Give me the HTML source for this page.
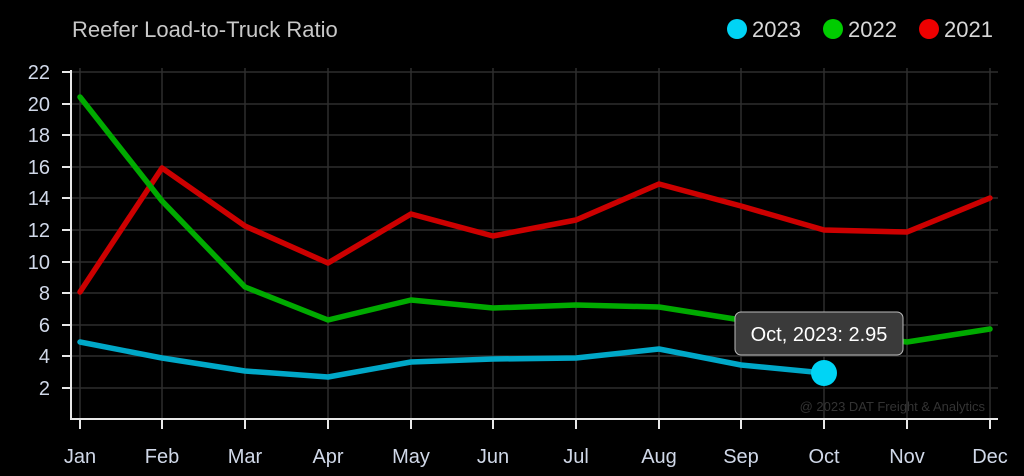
<!DOCTYPE html>
<html><head><meta charset="utf-8"><style>
html,body{margin:0;padding:0;background:#000;}
svg{display:block;font-family:"Liberation Sans",sans-serif;}
</style></head><body>
<svg width="1024" height="476" viewBox="0 0 1024 476">
<rect width="1024" height="476" fill="#000"/>
<text x="72" y="37" font-size="22" fill="#c8c8c8">Reefer Load-to-Truck Ratio</text>
<circle cx="737" cy="29" r="10" fill="#00d4f5"/><text x="752" y="37" font-size="22" fill="#d8d8d8">2023</text>
<circle cx="833" cy="29" r="10" fill="#00cc00"/><text x="848" y="37" font-size="22" fill="#d8d8d8">2022</text>
<circle cx="929" cy="29" r="10" fill="#ee0000"/><text x="944" y="37" font-size="22" fill="#d8d8d8">2021</text>
<g stroke="#2e2e2e" stroke-width="1.5">
<line x1="71" y1="72" x2="998" y2="72"/><line x1="71" y1="104" x2="998" y2="104"/><line x1="71" y1="135" x2="998" y2="135"/><line x1="71" y1="167" x2="998" y2="167"/><line x1="71" y1="198" x2="998" y2="198"/><line x1="71" y1="230" x2="998" y2="230"/><line x1="71" y1="262" x2="998" y2="262"/><line x1="71" y1="293" x2="998" y2="293"/><line x1="71" y1="325" x2="998" y2="325"/><line x1="71" y1="356" x2="998" y2="356"/><line x1="71" y1="388" x2="998" y2="388"/>
<line x1="80" y1="68" x2="80" y2="419"/><line x1="162" y1="68" x2="162" y2="419"/><line x1="245" y1="68" x2="245" y2="419"/><line x1="328" y1="68" x2="328" y2="419"/><line x1="411" y1="68" x2="411" y2="419"/><line x1="493" y1="68" x2="493" y2="419"/><line x1="576" y1="68" x2="576" y2="419"/><line x1="659" y1="68" x2="659" y2="419"/><line x1="741" y1="68" x2="741" y2="419"/><line x1="824" y1="68" x2="824" y2="419"/><line x1="907" y1="68" x2="907" y2="419"/><line x1="990" y1="68" x2="990" y2="419"/>
</g>
<g stroke="#e8e8e8" stroke-width="2">
<line x1="71" y1="70" x2="71" y2="419"/><line x1="70" y1="419" x2="998" y2="419"/>
<line x1="62" y1="72" x2="71" y2="72"/><line x1="62" y1="104" x2="71" y2="104"/><line x1="62" y1="135" x2="71" y2="135"/><line x1="62" y1="167" x2="71" y2="167"/><line x1="62" y1="198" x2="71" y2="198"/><line x1="62" y1="230" x2="71" y2="230"/><line x1="62" y1="262" x2="71" y2="262"/><line x1="62" y1="293" x2="71" y2="293"/><line x1="62" y1="325" x2="71" y2="325"/><line x1="62" y1="356" x2="71" y2="356"/><line x1="62" y1="388" x2="71" y2="388"/>
<line x1="80" y1="419" x2="80" y2="429"/><line x1="162" y1="419" x2="162" y2="429"/><line x1="245" y1="419" x2="245" y2="429"/><line x1="328" y1="419" x2="328" y2="429"/><line x1="411" y1="419" x2="411" y2="429"/><line x1="493" y1="419" x2="493" y2="429"/><line x1="576" y1="419" x2="576" y2="429"/><line x1="659" y1="419" x2="659" y2="429"/><line x1="741" y1="419" x2="741" y2="429"/><line x1="824" y1="419" x2="824" y2="429"/><line x1="907" y1="419" x2="907" y2="429"/><line x1="990" y1="419" x2="990" y2="429"/>
</g>
<g font-size="20" fill="#d0d8e8" text-anchor="end">
<text x="50" y="79">22</text><text x="50" y="111">20</text><text x="50" y="142">18</text><text x="50" y="174">16</text><text x="50" y="205">14</text><text x="50" y="237">12</text><text x="50" y="269">10</text><text x="50" y="300">8</text><text x="50" y="332">6</text><text x="50" y="363">4</text><text x="50" y="395">2</text>
</g>
<g font-size="20" fill="#d0d8e8" text-anchor="middle">
<text x="80" y="463">Jan</text><text x="162" y="463">Feb</text><text x="245" y="463">Mar</text><text x="328" y="463">Apr</text><text x="411" y="463">May</text><text x="493" y="463">Jun</text><text x="576" y="463">Jul</text><text x="659" y="463">Aug</text><text x="741" y="463">Sep</text><text x="824" y="463">Oct</text><text x="907" y="463">Nov</text><text x="990" y="463">Dec</text>
</g>
<text x="985" y="411" font-size="13" fill="#333" text-anchor="end">@ 2023 DAT Freight &amp; Analytics</text>
<g fill="none" stroke-width="5.5" stroke-linejoin="round" stroke-linecap="round">
<polyline stroke="#cc0000" points="80,292 162,168 245,226 328,263 411,214 493,236 576,220 659,184 741,206 824,230 907,232 990,198"/>
<polyline stroke="#00aa00" points="80,97 162,201 245,287 328,320 411,300 493,308 576,305 659,307 741,320 824,331 907,342 990,329"/>
<polyline stroke="#00a8c8" points="80,342 162,358 245,371 328,377 411,362 493,359 576,358 659,349 741,365 824,373"/>
</g>
<circle cx="824" cy="373" r="13" fill="#00d4f5"/>
<rect x="735" y="312" width="168" height="43" rx="6" fill="#3a3a3a" stroke="#bbb" stroke-width="1"/>
<text x="819" y="341" font-size="20" fill="#fff" text-anchor="middle">Oct, 2023: 2.95</text>
</svg>
</body></html>
